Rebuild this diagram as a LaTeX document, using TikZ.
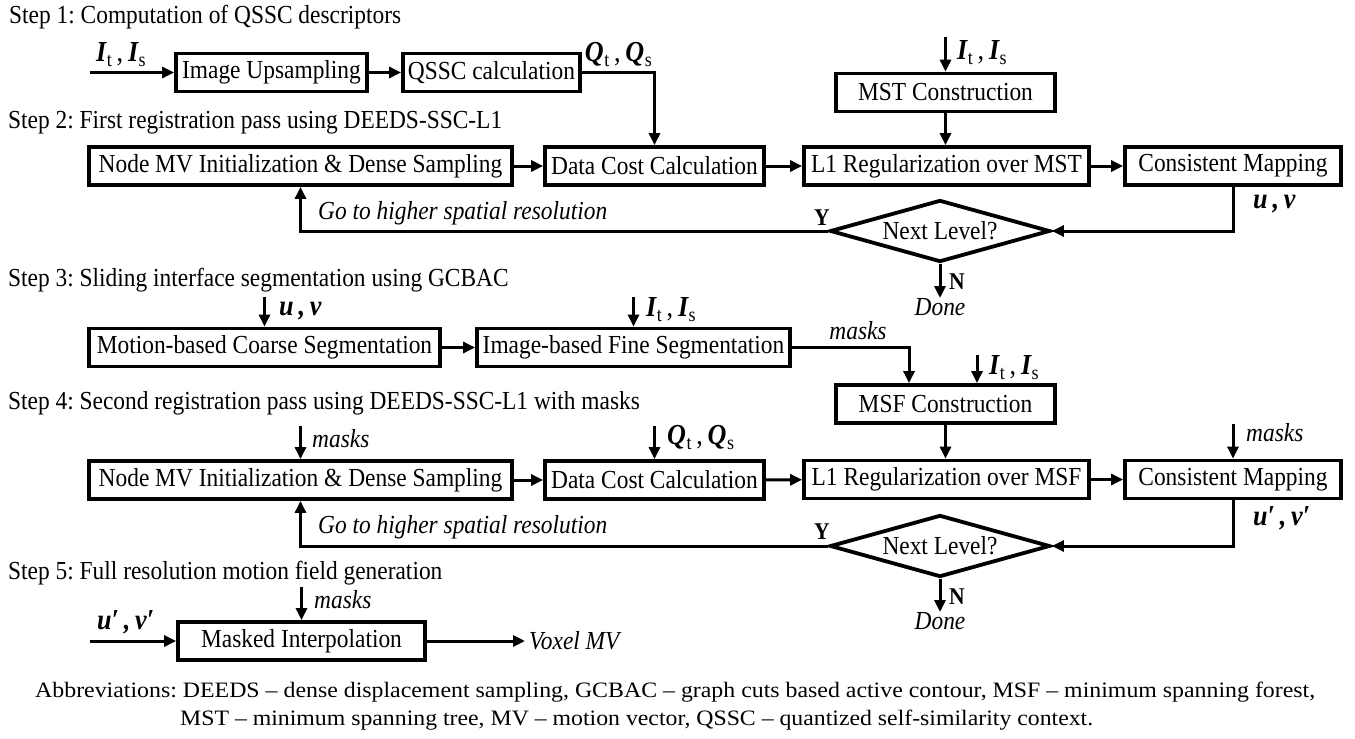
\documentclass[tikz,border=0pt]{standalone}
\usepackage{fontspec}
\setmainfont{Liberation Serif}[FakeStretch=0.9]
\usetikzlibrary{arrows.meta,shapes.geometric}
\frenchspacing
\newcommand\subI[1]{{\bfseries\itshape I}\kern0.5pt\raisebox{-5pt}{\fontsize{20}{20}\selectfont #1}}
\newcommand\subQ[1]{{\bfseries\itshape Q}\kern0.5pt\raisebox{-5pt}{\fontsize{20}{20}\selectfont #1}}
\newcommand\ItIs{\subI{t}\,,\,\subI{s}}
\newcommand\QtQs{\subQ{t}\,,\,\subQ{s}}
\newcommand\uv{{\bfseries\itshape u\,,\,v}}
\newcommand\uvp{{\bfseries\itshape u′\,,\,v′}}
\newsavebox\myfitbox
\newcommand\fittowidth[2]{\sbox\myfitbox{#2}\pgfmathsetmacro\myfitsx{#1/\the\wd\myfitbox}\scalebox{\myfitsx}[1]{\usebox\myfitbox}}
\tikzset{
  box/.style={draw, line width=3.8pt, minimum height=38pt, inner xsep=4pt, inner ysep=0pt,
    font=\fontsize{26}{28}\selectfont\frenchspacing},
  dia/.style={diamond, draw, line width=3.8pt, minimum width=220pt, minimum height=62pt,
    aspect=3.5, inner sep=0pt, font=\fontsize{26}{28}\selectfont},
  arr/.style={line width=3pt, -{Triangle[length=12pt,width=11pt]}},
  steptitle/.style={anchor=west, inner sep=0pt, font=\fontsize{26}{28}\selectfont\frenchspacing},
  lab/.style={inner sep=0pt, font=\fontsize{29}{30}\selectfont},
  ilab/.style={inner sep=0pt, font=\fontsize{26}{28}\selectfont\itshape},
  blab/.style={inner sep=0pt, font=\fontsize{24}{26}\selectfont\bfseries},
  abbr/.style={anchor=west, inner sep=0pt, font=\fontsize{22}{24}\selectfont\frenchspacing},
}
\begin{document}
\begin{tikzpicture}[x=1pt,y=-1pt]
\useasboundingbox (0,0) rectangle (1355,739);
\fill[white] (0,0) rectangle (1355,739);

% ---------- Step 1
\node[steptitle] (st1) at (9,17) {Step 1: Computation of QSSC descriptors};
\node[box, minimum width=191pt] (up) at (271.5,72.5) {Image Upsampling};
\node[box, minimum width=177pt] (qs) at (491.5,72.5) {QSSC calculation};
\coordinate (in1) at (90,72.5);
\draw[arr] (in1) -- (up.west);
\node[lab, anchor=south west] (lit1) at (96,67) {\ItIs};
\draw[arr] (up) -- (qs);

% ---------- Step 2
\node[steptitle] (st2) at (8,123) {Step 2: First registration pass using DEEDS-SSC-L1};
\node[box, minimum width=219pt] (mst) at (945.5,92.5) {MST Construction};
\coordinate (mstin) at (945.5,37);
\draw[arr] (mstin) -- (mst.north);
\node[lab, anchor=west] (lit2) at (957,53) {\ItIs};

\node[box, minimum width=423pt] (nm1) at (300.5,166) {Node MV Initialization \& Dense Sampling};
\node[box, minimum width=219pt] (dc1) at (654.5,166) {Data Cost Calculation};
\node[box, minimum width=285pt] (l1a) at (946.5,166) {L1 Regularization over MST};
\node[box, minimum width=216pt] (cm1) at (1233,166) {Consistent Mapping};
\draw[arr] (qs.east) -| (dc1.north);
\node[lab, anchor=south east] (lq1) at (652,67) {\QtQs};
\draw[arr] (mst.south) -- (mst.south |- l1a.north);
\draw[arr] (nm1) -- (dc1);
\draw[arr] (dc1) -- (l1a);
\draw[arr] (l1a) -- (cm1);
\node[dia] (d1) at (940,231) {Next Level?};
\draw[arr] (cm1.south) |- (d1.east);
\node[lab, anchor=west] (luv1) at (1253,204) {\uv};
\draw[arr] (d1.west) -| (nm1.south);
\node[blab] (y1) at (822,218) {Y};
\node[ilab, anchor=west] (go1) at (318,213) {Go to higher spatial resolution};
\node[ilab, anchor=north] (dn1) at (940,298) {Done};
\draw[arr] (d1.south) -- (dn1.north);
\node[blab] (n1) at (957,282) {N};

% ---------- Step 3
\node[steptitle] (st3) at (8,280) {Step 3: Sliding interface segmentation using GCBAC};
\node[box, minimum width=351pt] (mc) at (264.5,347.5) {Motion-based Coarse Segmentation};
\node[box, minimum width=313pt] (ib) at (633.5,347.5) {Image-based Fine Segmentation};
\coordinate (mcin) at (264.5,297);
\draw[arr] (mcin) -- (mc.north);
\node[lab, anchor=west] (luv3) at (279,311) {\uv};
\coordinate (ibin) at (633.5,297);
\draw[arr] (ibin) -- (ib.north);
\node[lab, anchor=west] (lit3) at (646,310) {\ItIs};
\draw[arr] (mc) -- (ib);

% ---------- Step 4
\node[box, minimum width=219pt] (msf) at (945.5,404) {MSF Construction};
\draw[arr] (ib.east) -| ([xshift=-36.5pt]msf.north);
\node[ilab] (lmk3) at (858,331) {masks};
\coordinate (msfin) at (977,355);
\draw[arr] (msfin) -- (msfin |- msf.north);
\node[lab, anchor=west] (lit4) at (989,368) {\ItIs};
\node[steptitle] (st4) at (8,403) {Step 4: Second registration pass using DEEDS-SSC-L1 with masks};

\node[box, minimum width=423pt] (nm2) at (300.5,480) {Node MV Initialization \& Dense Sampling};
\node[box, minimum width=219pt] (dc2) at (654.5,480) {Data Cost Calculation};
\node[box, minimum width=285pt] (l1b) at (946.5,479.5) {L1 Regularization over MSF};
\node[box, minimum width=216pt] (cm2) at (1233,479.5) {Consistent Mapping};
\coordinate (nm2in) at (300.5,426);
\draw[arr] (nm2in) -- (nm2.north);
\node[ilab, anchor=west] (lmk4a) at (312,439) {masks};
\coordinate (dc2in) at (654.5,426);
\draw[arr] (dc2in) -- (dc2.north);
\node[lab, anchor=west] (lq4) at (667,437) {\QtQs};
\draw[arr] (msf.south) -- (msf.south |- l1b.north);
\coordinate (cm2in) at (1233,424);
\draw[arr] (cm2in) -- (cm2.north);
\node[ilab, anchor=west] (lmk4b) at (1246,433) {masks};
\draw[arr] (nm2) -- (dc2);
\draw[arr] (dc2) -- (l1b);
\draw[arr] (l1b) -- (cm2);
\node[dia] (d2) at (940,546) {Next Level?};
\draw[arr] (cm2.south) |- (d2.east);
\node[lab, anchor=west] (luv4) at (1253,518) {\uvp};
\draw[arr] (d2.west) -| (nm2.south);
\node[blab] (y2) at (822,532) {Y};
\node[ilab, anchor=west] (go2) at (318,527) {Go to higher spatial resolution};
\node[ilab, anchor=north] (dn2) at (940,612) {Done};
\draw[arr] (d2.south) -- (dn2.north);
\node[blab] (n2) at (957,597) {N};

% ---------- Step 5
\node[steptitle] (st5) at (8,573) {Step 5: Full resolution motion field generation};
\node[box, minimum width=247pt] (mi) at (301.5,641) {Masked Interpolation};
\coordinate (miin) at (301.5,587);
\draw[arr] (miin) -- (mi.north);
\node[ilab, anchor=west] (lmk5) at (314,600) {masks};
\coordinate (in5) at (90,641);
\draw[arr] (in5) -- (mi.west);
\node[lab, anchor=south west] (luv5) at (97,634) {\uvp};
\node[ilab, anchor=west] (vx) at (529,641) {Voxel MV};
\draw[arr, shorten >=4pt] (mi.east) -- (vx.west);

% ---------- Abbreviations
\node[abbr] (ab1) at (35,692) {\fittowidth{1280}{Abbreviations: DEEDS – dense displacement sampling, GCBAC – graph cuts based active contour, MSF – minimum spanning forest,}};
\node[abbr] (ab2) at (180,720) {\fittowidth{913}{MST – minimum spanning tree, MV – motion vector, QSSC – quantized self-similarity context.}};
\end{tikzpicture}
\end{document}
